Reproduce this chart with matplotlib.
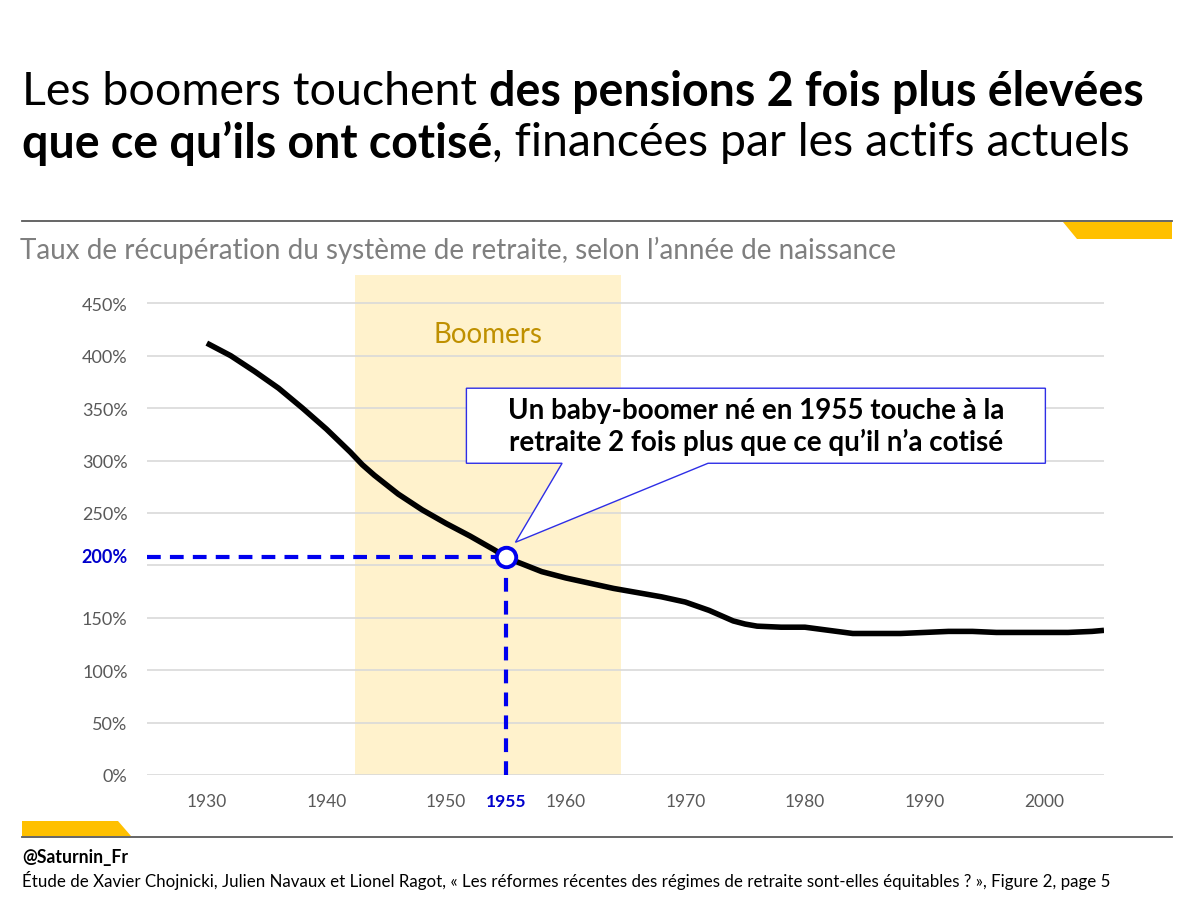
import matplotlib
matplotlib.use('Agg')
import matplotlib.pyplot as plt
from matplotlib.patches import Polygon

plt.rcParams['font.family'] = ['Lato', 'DejaVu Sans']

# taux de recuperation (%) par annee de naissance
years = [1930, 1932, 1934, 1936, 1938, 1940, 1942, 1943, 1944, 1946, 1948,
         1950, 1952, 1954, 1955, 1956, 1958, 1960, 1962, 1964, 1966, 1968,
         1970, 1972, 1974, 1975, 1976, 1978, 1980, 1982, 1984, 1986, 1988,
         1990, 1992, 1994, 1996, 1998, 2000, 2002, 2004, 2005]
taux = [412, 400, 385, 369, 350, 330, 308, 296, 286, 268, 253,
        240, 228, 215, 208, 203, 194, 188, 183, 178, 174, 170,
        165, 157, 147, 144, 142, 141, 141, 138, 135, 135, 135,
        136, 137, 137, 136, 136, 136, 136, 137, 138]
yticks = [0, 50, 100, 150, 200, 250, 300, 350, 400, 450]
xticks = [1930, 1940, 1950, 1960, 1970, 1980, 1990, 2000]
boomers = (1942.4, 1964.6)
focus_year = 1955
focus_val = 208

fig = plt.figure(figsize=(12, 9.04), dpi=100)
W, H = 1200, 904

def fx(px):
    return px / W

def fy(py):
    return 1 - py / H

# --- en-tete ---
renderer = fig.canvas.get_renderer()

def rich(x, y, parts, size):
    for txt, weight in parts:
        t = fig.text(x, y, txt, fontsize=size, fontweight=weight,
                     va='center', ha='left', color='black')
        bb = t.get_window_extent(renderer)
        x = bb.x1 / fig.bbox.width

rich(fx(22), fy(92), [("Les boomers touchent ", 'normal'),
                      ("des pensions 2 fois plus élevées", 'bold')], 33.5)
rich(fx(22), fy(143), [("que ce qu’ils ont cotisé", 'bold'),
                       (", financées par les actifs actuels", 'normal')], 33.5)

fig.add_artist(plt.Line2D([fx(22), fx(1172)], [fy(222), fy(222)], color='#595959', lw=1.3))
fig.add_artist(Polygon([[fx(1063), fy(223)], [fx(1172), fy(223)], [fx(1172), fy(240)],
                        [fx(1077), fy(240)]], closed=True, color='#ffc000', lw=0))

fig.text(fx(20), fy(250), "Taux de récupération du système de retraite, selon l’année de naissance",
         fontsize=20, color='#7f7f7f', va='center', ha='left')

# --- graphique ---
ax = fig.add_axes([fx(147), fy(776), fx(1104) - fx(147), fy(276) - fy(776)])
ax.set_xlim(1925, 2005)
ax.set_ylim(0, 477)
ax.axvspan(boomers[0], boomers[1], color='#fff2cc', lw=0, zorder=0)
ax.set_yticks(yticks)
ax.set_yticklabels(['' if v == 200 else f'{v}%' for v in yticks])
ax.set_xticks(xticks)
ax.set_xticklabels([str(v) for v in xticks])
ax.tick_params(length=0, labelcolor='#595959')
ax.tick_params(axis='y', pad=14, labelsize=13)
ax.tick_params(axis='x', pad=13, labelsize=12.5)
ax.grid(axis='y', color='#d9d9d9', lw=1.2, zorder=1)
for s in ax.spines.values():
    s.set_visible(False)

ax.plot(years, taux, color='black', lw=4, zorder=3, solid_capstyle='butt',
        solid_joinstyle='round')

x0 = ax.get_xlim()[0]
ax.plot([x0, focus_year], [focus_val, focus_val], color='#0000ee', lw=3,
        dashes=(3.3, 2.2), zorder=4)
ax.plot([focus_year, focus_year], [0, focus_val], color='#0000ee', lw=3,
        dashes=(3.3, 2.2), zorder=4)
ax.plot([focus_year], [focus_val], marker='o', ms=14, mfc='white', mec='#0000ee',
        mew=2.8, zorder=6)

ax.annotate('200%', xy=(x0, focus_val), xytext=(-14, 0), textcoords='offset points',
            color='#0000cc', fontweight='bold', fontsize=13, ha='right', va='center')
ax.annotate(str(focus_year), xy=(focus_year, 0), xytext=(0, -13), textcoords='offset points',
            color='#0000cc', fontweight='bold', fontsize=12.5, ha='center', va='top')

ax.text(sum(boomers) / 2, 421, 'Boomers', color='#bf9000', fontsize=20,
        ha='center', va='center')

# bulle
box = [(1951.7, 369), (2000.1, 369), (2000.1, 297.4), (1971.9, 297.4),
       (1955.8, 222), (1959.7, 297.4), (1951.7, 297.4)]
ax.add_patch(Polygon(box, closed=True, facecolor='white', edgecolor='#2e2ee6',
                     lw=1, zorder=5))
ax.text(1975.9, 333, "Un baby-boomer né en 1955 touche à la\nretraite 2 fois plus que ce qu’il n’a cotisé",
        fontsize=20, fontweight='bold', ha='center', va='center', zorder=6,
        linespacing=1.2)

# --- pied ---
fig.add_artist(plt.Line2D([fx(22), fx(1172)], [fy(838), fy(838)], color='#595959', lw=1.3))
fig.add_artist(Polygon([[fx(22), fy(822)], [fx(118), fy(822)], [fx(131), fy(837)],
                        [fx(22), fy(837)]], closed=True, color='#ffc000', lw=0))
fig.text(fx(22), fy(858), '@Saturnin_Fr', fontsize=12.7, fontweight='bold', va='center')
fig.text(fx(22), fy(881), 'Étude de Xavier Chojnicki, Julien Navaux et Lionel Ragot, « Les réformes récentes des régimes de retraite sont-elles équitables ? », Figure 2, page 5',
         fontsize=12.2, va='center')

fig.savefig('out.png', dpi=100)
